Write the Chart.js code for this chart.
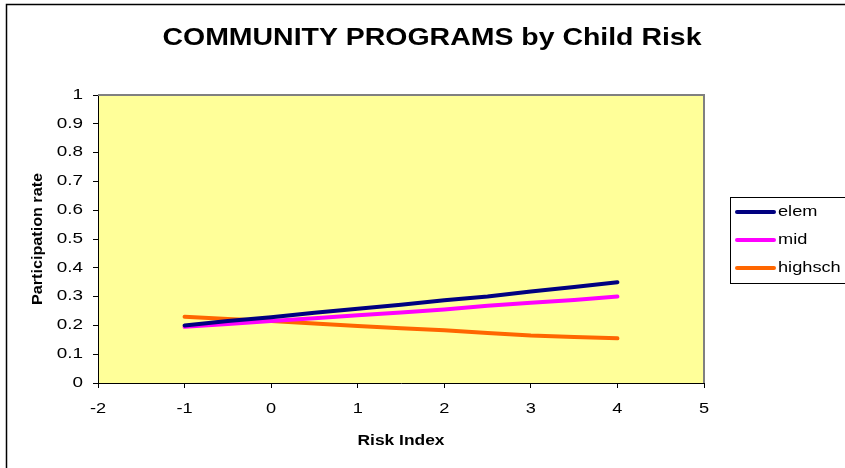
<!DOCTYPE html>
<html>
<head>
<meta charset="utf-8">
<script src="https://cdn.jsdelivr.net/npm/chart.js@4/dist/chart.umd.min.js"></script>
<style>
html,body{margin:0;padding:0;background:#fff;}
canvas{display:block;}
</style>
</head>
<body>
<canvas id="c" width="845" height="468"></canvas>
<script>
const riskIndex = [-1, -0.5, 0, 0.5, 1, 1.5, 2, 2.5, 3, 3.5, 4];
const elem    = [0.200, 0.215, 0.228, 0.244, 0.258, 0.272, 0.287, 0.300, 0.318, 0.333, 0.350];
const mid     = [0.195, 0.205, 0.215, 0.225, 0.235, 0.245, 0.255, 0.268, 0.279, 0.288, 0.300];
const highsch = [0.230, 0.222, 0.215, 0.207, 0.198, 0.190, 0.183, 0.174, 0.165, 0.160, 0.155];
const seriesNames = ['elem', 'mid', 'highsch'];
const seriesColors = ['#000080', '#FF00FF', '#FF6600'];
const titleText = 'COMMUNITY PROGRAMS by Child Risk';
const xTitle = 'Risk Index';
const yTitle = 'Participation rate';

const FONT = '"Liberation Sans", Arial, Helvetica, sans-serif';
const toPts = ys => riskIndex.map((x, i) => ({x: x, y: ys[i]}));

// draw text horizontally stretched by sx (Excel-like wide rendering)
function drawStretched(ctx, text, x, y, sx, align) {
  const w = ctx.measureText(text).width * sx;
  let left = x;
  if (align === 'center') left = x - w / 2;
  else if (align === 'right') left = x - w;
  ctx.save();
  ctx.textAlign = 'left';
  ctx.translate(left, y);
  ctx.scale(sx, 1);
  ctx.fillText(text, 0, 0);
  ctx.restore();
}
function fitWidth(ctx, text, cx, y, width) {
  const sx = width / ctx.measureText(text).width;
  drawStretched(ctx, text, cx, y, sx, 'center');
}

const decor = {
  id: 'decor',
  beforeDraw(chart) {
    const {ctx, chartArea: a} = chart;
    ctx.save();
    ctx.fillStyle = '#FFFF99';
    ctx.fillRect(a.left, a.top, a.right - a.left, a.bottom - a.top);
    ctx.restore();
  },
  afterDatasetsDraw(chart) {
    const {ctx, chartArea: a} = chart;
    ctx.save();
    ctx.strokeStyle = '#808080';
    ctx.lineWidth = 2;
    ctx.beginPath();
    ctx.moveTo(a.left, a.top);
    ctx.lineTo(a.right, a.top);
    ctx.lineTo(a.right, a.bottom);
    ctx.stroke();
    ctx.restore();
  },
  afterDraw(chart) {
    const {ctx, scales} = chart;
    ctx.save();
    // outer frame
    ctx.strokeStyle = '#000';
    ctx.lineWidth = 1.5;
    ctx.strokeRect(6.5, 4.5, 900, 600);
    ctx.fillStyle = '#000';
    ctx.textBaseline = 'alphabetic';
    // title
    ctx.font = 'bold 24px ' + FONT;
    fitWidth(ctx, titleText, 432, 45, 539);
    // x title
    ctx.font = 'bold 14px ' + FONT;
    fitWidth(ctx, xTitle, 401, 445, 87);
    // y title
    ctx.save();
    ctx.translate(42, 239);
    ctx.rotate(-Math.PI / 2);
    fitWidth(ctx, yTitle, 0, 0, 132);
    ctx.restore();
    // tick labels from the library's scales
    ctx.font = '14px ' + FONT;
    ctx.textBaseline = 'middle';
    const ys = scales.y, xs = scales.x;
    ys.ticks.forEach(t => {
      const lbl = String(Math.round(t.value * 10) / 10);
      drawStretched(ctx, lbl, 83, ys.getPixelForValue(t.value), 1.35, 'right');
    });
    xs.ticks.forEach(t => {
      drawStretched(ctx, String(t.value), xs.getPixelForValue(t.value), 409, 1.3, 'center');
    });
    // legend
    ctx.strokeStyle = '#000';
    ctx.lineWidth = 1;
    ctx.strokeRect(730.5, 197.5, 200, 86);
    ctx.font = '14px ' + FONT;
    const ly = [212, 240, 268];
    chart.data.datasets.forEach((ds, i) => {
      ctx.strokeStyle = ds.borderColor;
      ctx.lineWidth = 4;
      ctx.lineCap = 'round';
      ctx.beginPath();
      ctx.moveTo(737, ly[i]);
      ctx.lineTo(774, ly[i]);
      ctx.stroke();
      ctx.fillStyle = '#000';
      drawStretched(ctx, ds.label, 778, ly[i], 1.3, 'left');
    });
    ctx.restore();
  }
};

new Chart(document.getElementById('c'), {
  type: 'line',
  data: {
    datasets: [elem, mid, highsch].map((ys, i) => ({
      label: seriesNames[i],
      data: toPts(ys),
      borderColor: seriesColors[i],
      backgroundColor: seriesColors[i],
      borderWidth: 4,
      pointRadius: 0,
      tension: 0,
      fill: false,
      borderCapStyle: 'round'
    }))
  },
  options: {
    responsive: false,
    animation: false,
    layout: {padding: {left: 0, right: 141, top: 95, bottom: 0}},
    plugins: {legend: {display: false}, title: {display: false}, tooltip: {enabled: false}},
    scales: {
      x: {
        type: 'linear',
        min: -2, max: 5,
        afterFit: s => { s.height = 85; },
        border: {color: '#000', width: 1},
        grid: {drawOnChartArea: false, drawTicks: true, tickLength: 5, tickColor: '#000'},
        ticks: {stepSize: 1, color: 'rgba(0,0,0,0)', font: {family: FONT, size: 13}, padding: 12, maxRotation: 0}
      },
      y: {
        min: 0, max: 1,
        afterFit: s => { s.width = 98; },
        border: {color: '#000', width: 1},
        grid: {drawOnChartArea: false, drawTicks: true, tickLength: 5, tickColor: '#000'},
        ticks: {stepSize: 0.1, color: 'rgba(0,0,0,0)', font: {family: FONT, size: 13}, padding: 10,
          callback: v => String(Math.round(v * 10) / 10)}
      }
    }
  },
  plugins: [decor]
});
</script>
</body>
</html>
